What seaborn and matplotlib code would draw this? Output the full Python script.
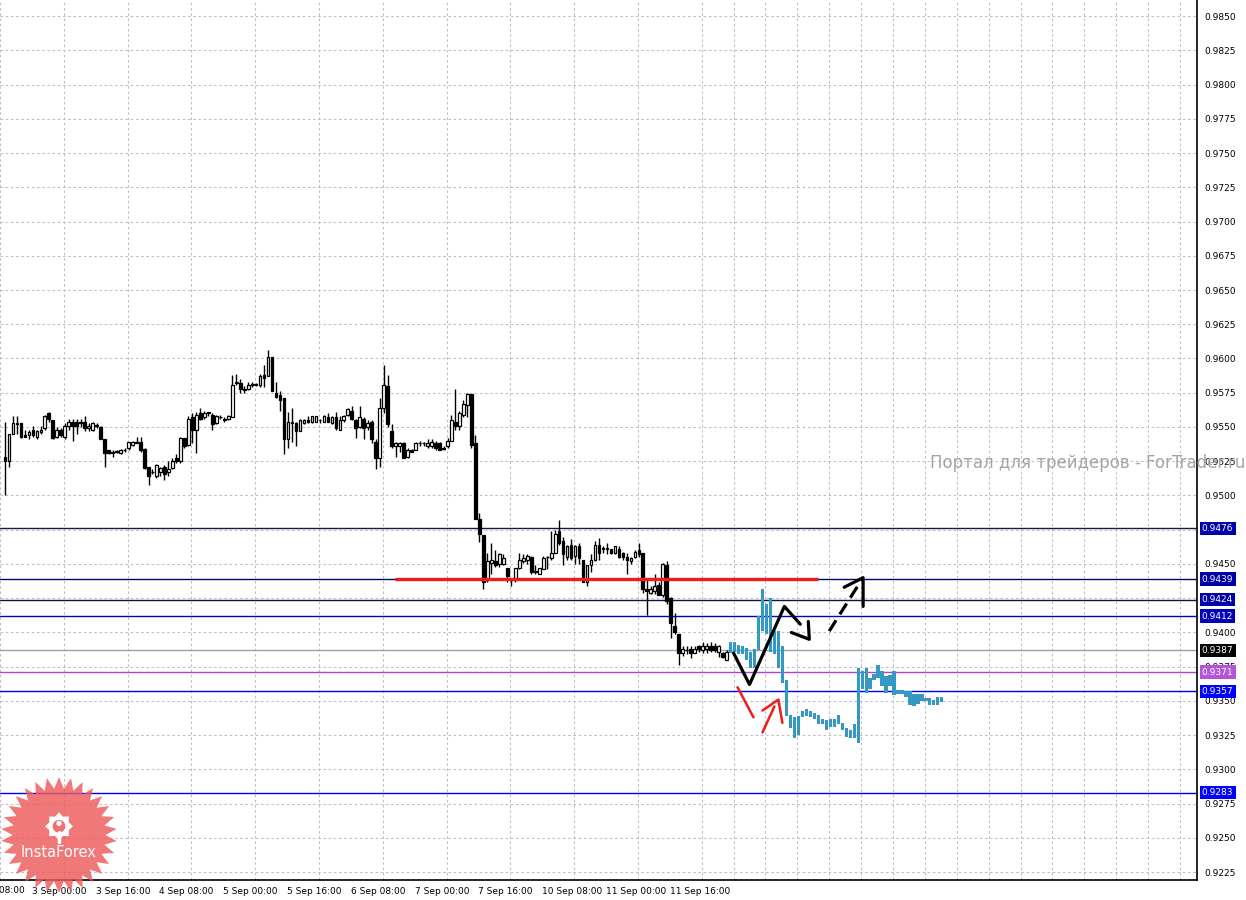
import numpy as np
import matplotlib
matplotlib.use("Agg")
import matplotlib.pyplot as plt
import matplotlib.transforms as mtransforms
from matplotlib.patches import Polygon, Circle
import seaborn as sns

# H1 candles (open / close / high / low)
opens = [
    .9528, .9525, .9545, .9552, .9553, .9544, .9544, .9548, .9543, .9546,
    .9549, .9560, .9555, .9543, .9548, .9543, .9551, .9554, .9554, .9553,
    .9554, .9549, .9548, .9551, .9550, .9541, .9533, .9531, .9532, .9531,
    .9533, .9535, .9537, .9539, .9539, .9534, .9521, .9517, .9514, .9517,
    .9521, .9517, .9520, .9527, .9525, .9542, .9537, .9557, .9548, .9560,
    .9557, .9561, .9559, .9553, .9557, .9556, .9556, .9557, .9582, .9582,
    .9577, .9578, .9581, .9581, .9581, .9588, .9587, .9601, .9575, .9573,
    .9571, .9541, .9553, .9553, .9547, .9553, .9555, .9554, .9554, .9555,
    .9554, .9557, .9553, .9557, .9548, .9555, .9559, .9562, .9555, .9550,
    .9556, .9550, .9554, .9539, .9527, .9564, .9580, .9547, .9536, .9536,
    .9538, .9528, .9533, .9533, .9538, .9538, .9536, .9536, .9538, .9538,
    .9535, .9536, .9540, .9554, .9551, .9559, .9566, .9574, .9538, .9483,
    .9471, .9438, .9451, .9452, .9450, .9450, .9447, .9438, .9438, .9447,
    .9452, .9453, .9455, .9445, .9443, .9446, .9455, .9454, .9458, .9474,
    .9467, .9455, .9464, .9456, .9463, .9453, .9437, .9449, .9453, .9464,
    .9461, .9461, .9461, .9458, .9461, .9458, .9455, .9452, .9455, .9460,
    .9458, .9432, .9429, .9430, .9435, .9427, .9449, .9425, .9405, .9399,
    .9385, .9387, .9388, .9385, .9390, .9387, .9388, .9390, .9390, .9386,
    .9385, .9380]
closes = [
    .9525, .9545, .9553, .9553, .9543, .9543, .9546, .9544, .9547, .9548,
    .9558, .9556, .9542, .9548, .9544, .9551, .9554, .9551, .9551, .9553,
    .9549, .9551, .9553, .9551, .9541, .9531, .9531, .9532, .9532, .9533,
    .9533, .9539, .9539, .9538, .9533, .9520, .9514, .9517, .9522, .9520,
    .9516, .9519, .9525, .9525, .9542, .9536, .9556, .9548, .9559, .9556,
    .9560, .9560, .9552, .9558, .9557, .9555, .9558, .9581, .9583, .9578,
    .9577, .9581, .9581, .9581, .9587, .9586, .9601, .9576, .9572, .9570,
    .9541, .9554, .9553, .9547, .9555, .9555, .9554, .9558, .9558, .9555,
    .9558, .9554, .9557, .9549, .9555, .9558, .9563, .9556, .9549, .9557,
    .9549, .9553, .9541, .9527, .9564, .9581, .9552, .9536, .9538, .9538,
    .9527, .9533, .9532, .9538, .9538, .9538, .9538, .9539, .9535, .9533,
    .9534, .9540, .9555, .9551, .9560, .9567, .9574, .9537, .9483, .9472,
    .9437, .9452, .9453, .9449, .9457, .9454, .9441, .9438, .9447, .9453,
    .9454, .9456, .9444, .9444, .9447, .9454, .9455, .9458, .9472, .9465,
    .9457, .9463, .9454, .9463, .9454, .9437, .9449, .9453, .9464, .9458,
    .9461, .9461, .9458, .9463, .9455, .9455, .9453, .9454, .9459, .9457,
    .9432, .9430, .9432, .9434, .9427, .9450, .9423, .9407, .9400, .9385,
    .9388, .9387, .9385, .9388, .9388, .9390, .9390, .9387, .9387, .9390,
    .9382, .9386]
highs = [
    .9554, .9545, .9558, .9558, .9553, .9548, .9548, .9551, .9548, .9551,
    .9559, .9561, .9555, .9550, .9549, .9553, .9556, .9556, .9556, .9556,
    .9558, .9553, .9554, .9553, .9551, .9541, .9533, .9533, .9533, .9534,
    .9535, .9539, .9540, .9543, .9543, .9535, .9521, .9519, .9523, .9521,
    .9522, .9525, .9527, .9530, .9543, .9542, .9558, .9560, .9561, .9564,
    .9562, .9561, .9560, .9559, .9559, .9557, .9559, .9588, .9589, .9585,
    .9580, .9583, .9583, .9582, .9589, .9595, .9606, .9601, .9583, .9576,
    .9571, .9561, .9564, .9554, .9556, .9556, .9558, .9558, .9558, .9556,
    .9559, .9560, .9558, .9561, .9558, .9559, .9564, .9565, .9556, .9565,
    .9557, .9555, .9555, .9541, .9571, .9595, .9588, .9552, .9539, .9539,
    .9539, .9535, .9534, .9539, .9540, .9539, .9541, .9541, .9540, .9539,
    .9536, .9542, .9559, .9578, .9562, .9570, .9575, .9574, .9544, .9487,
    .9471, .9458, .9465, .9460, .9458, .9457, .9447, .9440, .9447, .9458,
    .9457, .9457, .9456, .9449, .9447, .9456, .9456, .9474, .9475, .9482,
    .9470, .9464, .9468, .9464, .9465, .9453, .9449, .9457, .9467, .9469,
    .9463, .9465, .9461, .9463, .9463, .9459, .9458, .9455, .9460, .9465,
    .9458, .9438, .9434, .9443, .9437, .9451, .9452, .9426, .9414, .9399,
    .9390, .9390, .9390, .9390, .9391, .9393, .9392, .9393, .9392, .9391,
    .9386, .9387]
lows = [
    .9500, .9521, .9545, .9545, .9542, .9543, .9541, .9543, .9541, .9545,
    .9548, .9554, .9541, .9542, .9543, .9541, .9548, .9540, .9545, .9550,
    .9547, .9547, .9547, .9549, .9541, .9521, .9530, .9528, .9531, .9530,
    .9532, .9533, .9536, .9538, .9532, .9519, .9508, .9516, .9513, .9514,
    .9511, .9514, .9519, .9524, .9524, .9535, .9536, .9538, .9531, .9555,
    .9556, .9558, .9548, .9552, .9556, .9554, .9555, .9557, .9581, .9575,
    .9575, .9577, .9579, .9580, .9579, .9579, .9587, .9576, .9571, .9562,
    .9530, .9535, .9539, .9536, .9547, .9552, .9553, .9553, .9554, .9553,
    .9554, .9554, .9552, .9548, .9548, .9554, .9558, .9555, .9542, .9549,
    .9541, .9548, .9538, .9519, .9521, .9560, .9550, .9535, .9528, .9532,
    .9527, .9527, .9532, .9533, .9536, .9536, .9535, .9535, .9533, .9533,
    .9533, .9535, .9540, .9548, .9548, .9557, .9557, .9535, .9483, .9466,
    .9432, .9437, .9443, .9448, .9448, .9449, .9437, .9434, .9437, .9446,
    .9451, .9450, .9443, .9443, .9443, .9446, .9446, .9453, .9458, .9464,
    .9449, .9453, .9453, .9450, .9450, .9437, .9434, .9444, .9452, .9453,
    .9458, .9457, .9457, .9457, .9454, .9453, .9443, .9450, .9454, .9455,
    .9429, .9413, .9428, .9428, .9427, .9426, .9421, .9396, .9399, .9376,
    .9383, .9384, .9381, .9385, .9386, .9385, .9385, .9386, .9386, .9382,
    .9381, .9380]

# projected (cyan) bars that follow the last candle: top / bottom
cyan_top = [
    .9393, .9393, .9391, .9390, .9389, .9386, .9388, .9412, .9432, .9421,
    .9425, .9401, .9401, .9390, .9365, .9340, .9338, .9339, .9343, .9344,
    .9343, .9341, .9340, .9337, .9336, .9337, .9337, .9340, .9334, .9330,
    .9329, .9333, .9374, .9372, .9374, .9367, .9370, .9376, .9372, .9368,
    .9369, .9372, .9358, .9358, .9357, .9357, .9355, .9355, .9355, .9352,
    .9352, .9351, .9353, .9353]
cyan_bottom = [
    .9385, .9386, .9384, .9384, .9380, .9374, .9374, .9387, .9401, .9399,
    .9386, .9384, .9374, .9363, .9339, .9330, .9323, .9325, .9338, .9339,
    .9338, .9337, .9333, .9333, .9329, .9331, .9331, .9333, .9329, .9324,
    .9323, .9323, .9319, .9359, .9356, .9359, .9365, .9367, .9361, .9356,
    .9361, .9354, .9355, .9355, .9353, .9347, .9346, .9348, .9350, .9350,
    .9347, .9347, .9347, .9349]

# horizontal levels with their price tags on the right
levels = [0.9476, 0.9439, 0.9424, 0.9412, 0.9387, 0.9371, 0.9357, 0.9283]
level_colors = ["#1a1a3a", "#00007a", "#10104a", "#0000c8", "#a0a0a0", "#b040d8", "#0000f0", "#0000f0"]
tag_colors = ["#0000a8", "#0000a8", "#0000a8", "#0000b8", "#000000", "#b455d8", "#0000ff", "#0000ff"]

# support line drawn by hand (bar range, price)
support_bars = [97.75, 204.0]
support_price = 0.9439

# hand-drawn arrows (bar index, price)
black_path_x = [182.75, 186.75, 195.5, 199.5]
black_path_y = [0.9385, 0.9362, 0.9419, 0.9406]
black_head_x = [197.25, 201.75, 201.5]
black_head_y = [0.9400, 0.9395, 0.9408]
dash_path_x = [206.75, 215.0]
dash_path_y = [0.9401, 0.9439]
dash_head_x = [210.5, 215.25, 215.25]
dash_head_y = [0.9433, 0.9440, 0.9419]
red_path_x = [183.75, 187.75]
red_path_y = [0.9360, 0.9338]
red_dash_x = [190.0, 193.0]
red_dash_y = [0.9327, 0.9346]
red_head_x = [190.0, 194.0, 195.0]
red_head_y = [0.9343, 0.9351, 0.9334]

time_labels = ["31 Aug 08:00", "3 Sep 00:00", "3 Sep 16:00", "4 Sep 08:00", "5 Sep 00:00",
               "5 Sep 16:00", "6 Sep 08:00", "7 Sep 00:00", "7 Sep 16:00", "10 Sep 08:00",
               "11 Sep 00:00", "11 Sep 16:00"]
label_bars = [-10.25, 6.75, 22.75, 38.75, 54.75, 70.75, 86.75, 102.75, 118.75, 134.75, 150.75, 166.75]

assert len(opens) == len(closes) == len(highs) == len(lows)
assert len(cyan_top) == len(cyan_bottom)

sns.set_theme(style="white")
plt.rcParams["font.family"] = ["DejaVu Sans"]

fig = plt.figure(figsize=(12.46, 9.0), dpi=100)
fig.patch.set_facecolor("white")
ax = fig.add_axes([0, 20 / 900, 1197 / 1246, 880 / 900])
ax.set_facecolor("white")

ax.set_xlim(-0.25, 299)
ax.set_ylim(0.92193, 0.98617)

# grid
price_ticks = np.arange(0.9225, 0.98501, 0.0025)
ax.set_yticks(price_ticks)
ax.set_yticklabels([f"{v:.4f}" for v in price_ticks])
ax.yaxis.tick_right()
ax.tick_params(axis="y", length=0, pad=5, labelsize=6.5, colors="black")
ax.set_xticks(label_bars[1:])
ax.set_xticklabels(time_labels[1:], ha="left")
ax.set_xticks(np.arange(-1.25, 299, 8), minor=True)
ax.tick_params(axis="x", which="major", length=4, width=1, pad=1, labelsize=6.5,
               colors="black", direction="out")
ax.tick_params(axis="x", which="minor", length=0)
ax.grid(True, which="major", axis="y", color="#c4bcc4", linestyle=(0, (2.5, 2.5)), lw=0.75)
ax.grid(True, which="minor", axis="x", color="#c4bcc4", linestyle=(0, (2.5, 2.5)), lw=0.75)
ax.set_axisbelow(True)
for s in ["left", "top"]:
    ax.spines[s].set_visible(False)
for s in ["right", "bottom"]:
    ax.spines[s].set_color("black")
    ax.spines[s].set_linewidth(1.2)

# cut-off first date label
ax.text(label_bars[0], -0.0066, time_labels[0],
        transform=mtransforms.blended_transform_factory(ax.transData, ax.transAxes),
        ha="left", va="top", fontsize=6.5, color="black", clip_on=False)

# levels
tag_tr = mtransforms.blended_transform_factory(ax.transAxes, ax.transData)
for lv, lc, tc in zip(levels, level_colors, tag_colors):
    ax.axhline(lv, color=lc, lw=1, zorder=2)
    ax.text(1.004, lv, f"{lv:.4f}", transform=tag_tr, ha="left", va="center", fontsize=6.5,
            color="white", clip_on=False, zorder=12,
            bbox=dict(boxstyle="square,pad=0.25", fc=tc, ec="none"))

# candles
o = np.array(opens)
c = np.array(closes)
h = np.array(highs)
l = np.array(lows)
idx = np.arange(len(o))
ax.vlines(idx, l, h, color="black", lw=1, zorder=3)
bull = c >= o
bottom = np.minimum(o, c)
height = np.maximum(np.abs(c - o), 0.00004)
ax.bar(idx[bull], height[bull], bottom=bottom[bull], width=0.68, color="white",
       edgecolor="black", lw=0.9, zorder=4)
ax.bar(idx[~bull], height[~bull], bottom=bottom[~bull], width=0.68, color="black",
       edgecolor="black", lw=0.9, zorder=4)

ct = np.array(cyan_top)
cb = np.array(cyan_bottom)
cidx = np.arange(len(o), len(o) + len(ct))
ax.bar(cidx, ct - cb, bottom=cb, width=0.8, color="#3399c4", lw=0, zorder=4)

# hand-drawn marks
ax.plot(support_bars, [support_price, support_price], color="#ee1c1c", lw=2.4, zorder=5,
        solid_capstyle="butt")
sns.lineplot(x=black_path_x, y=black_path_y, sort=False, estimator=None, color="black",
             lw=2.3, ax=ax, zorder=6)
sns.lineplot(x=black_head_x, y=black_head_y, sort=False, estimator=None, color="black",
             lw=2.3, ax=ax, zorder=6)
ax.plot(dash_path_x, dash_path_y, color="black", lw=2.3, linestyle=(0, (4, 2.2)), zorder=6)
sns.lineplot(x=dash_head_x, y=dash_head_y, sort=False, estimator=None, color="black",
             lw=2.3, ax=ax, zorder=6)
sns.lineplot(x=red_path_x, y=red_path_y, sort=False, estimator=None, color="#ee1c1c",
             lw=1.8, ax=ax, zorder=6)
sns.lineplot(x=red_dash_x, y=red_dash_y, sort=False, estimator=None, color="#ee1c1c",
             lw=1.8, ax=ax, zorder=6)
sns.lineplot(x=red_head_x, y=red_head_y, sort=False, estimator=None, color="#ee1c1c",
             lw=1.8, ax=ax, zorder=6)
ax.set_xlabel("")
ax.set_ylabel("")

# watermark
fig.text(930 / 1246, 1 - 468 / 900, "Портал для трейдеров - ForTrader.ru", fontsize=12,
         color="#aaa2a2", ha="left", va="baseline", zorder=20)

# logo
lax = fig.add_axes([1 / 1246, 7 / 900, 116 / 1246, 116 / 900])
lax.set_xlim(-1, 1)
lax.set_ylim(-1, 1)
lax.axis("off")
lax.patch.set_alpha(0)
n = 30
ang = np.linspace(0, 2 * np.pi, 2 * n, endpoint=False) + np.pi / 2
rad = np.where(np.arange(2 * n) % 2 == 0, 1.0, 0.8)
lax.add_patch(Polygon(np.c_[rad * np.cos(ang), rad * np.sin(ang)], closed=True,
                      fc="#ee5a5a", ec="none", alpha=0.82))
gang = np.linspace(0, 2 * np.pi, 16, endpoint=False) + np.pi / 2
grad = np.where(np.arange(16) % 2 == 0, 0.24, 0.18)
lax.add_patch(Polygon(np.c_[grad * np.cos(gang), 0.15 + grad * np.sin(gang)], closed=True,
                      fc="white", ec="none"))
lax.add_patch(Circle((0, 0.15), 0.11, fc="#ef7070", ec="none"))
lax.plot([0, 0], [0.06, -0.12], color="white", lw=2.5)
lax.add_patch(Circle((0, 0.2), 0.045, fc="white", ec="none"))
lax.text(0, -0.3, "InstaForex", color="white", fontsize=10.5, ha="center", va="center")

fig.savefig("out.png", dpi=100, facecolor="white")
